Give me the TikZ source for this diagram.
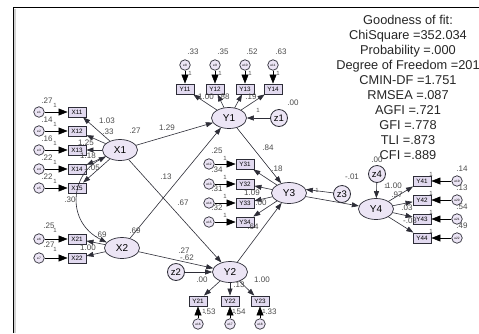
\documentclass[tikz,border=0pt]{standalone}
\usepackage{fontspec}
\setmainfont{Liberation Sans}
\usetikzlibrary{arrows.meta,shapes.geometric}
\definecolor{lav}{RGB}{236,229,245}
\definecolor{boxfill}{RGB}{226,218,240}
\definecolor{edge}{RGB}{45,45,55}
\definecolor{lbltxt}{RGB}{75,75,75}
\tikzset{
 lat/.style={ellipse, draw=edge, line width=0.7pt, fill=lav, minimum width=35pt, minimum height=21pt, inner sep=0pt, font=\fontsize{10}{10}\selectfont},
 obs/.style={rectangle, draw=edge, line width=0.9pt, fill=boxfill, minimum width=18pt, minimum height=10pt, inner sep=0pt, font=\fontsize{6.3}{6.3}\selectfont},
 err/.style={circle, draw=edge, line width=0.7pt, fill=lav, minimum size=10.5pt, inner sep=0pt, font=\fontsize{3.2}{3.2}\selectfont},
 dist/.style={circle, draw=edge, line width=0.8pt, fill=lav, minimum size=17pt, inner sep=0pt, font=\fontsize{9.5}{9.5}\selectfont},
 lbl/.style={inner sep=0pt, text=lbltxt, font=\fontsize{8}{8}\selectfont},
 one/.style={inner sep=0pt, text=lbltxt, font=\fontsize{6}{6}\selectfont},
 arr/.style={draw=edge, line width=0.6pt, -{Triangle[length=7pt,width=5pt]}},
 earr/.style={draw=black, line width=0.6pt, -{Triangle[length=9pt,width=7pt]}},
 cov/.style={draw=edge, line width=0.6pt, {Triangle[length=7pt,width=5pt]}-{Triangle[length=7pt,width=5pt]}},
 gof/.style={anchor=base, inner sep=0pt, text=black!85, font=\fontsize{12.8}{12.8}\selectfont},
}
\begin{document}
\begin{tikzpicture}[x=1pt,y=-1pt]
\useasboundingbox (0,0) rectangle (479,333);
\fill[white] (0,0) rectangle (479,333);
% frame
\draw[gray!35, line width=1.2pt] (15,333) -- (15,8.5);
\draw[black, line width=1pt] (13,333) -- (13,7) -- (479,7);

% goodness of fit
\foreach \t [count=\k from 0] in {Goodness of fit:, ChiSquare =352.034, Probability =.000, Degree of Freedom =201, CMIN-DF =1.751, RMSEA =.087, AGFI =.721, GFI =.778, TLI =.873, CFI =.889}
  \node[gof] (g\k) at (408,{24+15*\k}) {\t};

% latent variables
\node[lat] (X1) at (120,150) {X1};
\node[lat] (X2) at (122,248) {X2};
\node[lat] (Y1) at (229,118) {Y1};
\node[lat] (Y2) at (230,272) {Y2};
\node[lat] (Y3) at (289,193) {Y3};
\node[lat] (Y4) at (376,209) {Y4};
\node[dist] (z1) at (279,118) {z1};
\node[dist] (z2) at (176,272) {z2};
\node[dist] (z3) at (342,194) {z3};
\node[dist] (z4) at (377,174) {z4};

% X1 indicators
\foreach \n/\yy/\e in {1/112/1,2/131/2,3/150/3,4/169/4,5/188/5}{
  \node[obs] (X1\n) at (77,\yy) {X1\n};
  \node[err] (e\e) at (39,\yy) {e\e};
  \draw[earr] (e\e) -- (X1\n);
  \draw[arr] (X1) -- (X1\n);
}
% X2 indicators
\foreach \n/\yy/\e in {1/239/6,2/258/7}{
  \node[obs] (X2\n) at (77,\yy) {X2\n};
  \node[err] (e\e) at (39,\yy) {e\e};
  \draw[earr] (e\e) -- (X2\n);
  \draw[arr] (X2) -- (X2\n);
}
% Y1 indicators
\foreach \n/\xx/\e in {1/185/8,2/215/9,3/245/10,4/273/11}{
  \node[obs] (Y1\n) at (\xx,89) {Y1\n};
  \node[err] (e\e) at (\xx,65) {e\e};
  \draw[earr] (e\e) -- (Y1\n);
  \draw[arr] (Y1) -- (Y1\n);
}
% Y3 indicators
\foreach \n/\yy/\e in {1/164/12,2/184/13,3/203/14,4/222/15}{
  \node[obs] (Y3\n) at (245,\yy) {Y3\n};
  \node[err] (e\e) at (209,\yy) {e\e};
  \draw[earr] (e\e) -- (Y3\n);
  \draw[arr] (Y3) -- (Y3\n);
}
% Y2 indicators
\foreach \n/\xx/\e in {1/198/16,2/230/17,3/260/18}{
  \node[obs] (Y2\n) at (\xx,301) {Y2\n};
  \node[err] (e\e) at (\xx,324) {e\e};
  \draw[earr] (e\e) -- (Y2\n);
  \draw[arr] (Y2) -- (Y2\n);
}
% Y4 indicators
\foreach \n/\yy/\e in {1/181/19,2/200/20,3/219/21,4/238/22}{
  \node[obs] (Y4\n) at (422,\yy) {Y4\n};
  \node[err] (e\e) at (457,\yy) {e\e};
  \draw[earr] (e\e) -- (Y4\n);
  \draw[arr] (Y4) -- (Y4\n);
}

% structural paths
\draw[arr] (X1) -- (Y1);
\draw[arr] (X1) -- (Y2);
\draw[arr] (X2) -- (Y1);
\draw[arr] (X2) -- (Y2);
\draw[arr] (Y1) -- (Y3);
\draw[arr] (Y2) -- (Y3);
\draw[arr] (Y3.-12) -- (Y4);
\draw[arr] (z1) -- (Y1);
\draw[arr] (z2) -- (Y2);
\draw[arr] (z3) -- (Y3.12);
\draw[arr] (z4) -- (Y4);
\draw[cov] (X1.205) .. controls (70,175) and (66,222) .. (X2.160);

% estimates
\foreach \xx/\yy/\t [count=\k] in {
 47/101/.27, 47/120/.14, 47/139/.16, 47/158/.22, 47/177/.22,
 107/121/1.03, 108/132/.33, 86/143/1.25, 88/156/1.18, 92/168/1.05,
 135/131/.27, 70/200/.30,
 49/226/.25, 49/245/.27, 101/235/.69, 88/248/1.00, 135/231/.69,
 167/128/1.29, 166/177/.13, 183/203/.67, 184/251/.27, 187/258/-.62,
 193/52/.33, 223/52/.35, 252/52/.52, 281/52/.63,
 206/97/1.00, 224/97/.88, 251/97/.19, 293/103/.00, 268/148/.84,
 217/151/.25, 217/170/.34, 217/189/.31, 217/208/.32,
 277/169/.18, 252/193/1.09, 261/203/.00, 253/227/.64,
 202/280/.00, 239/285/.13, 262/280/1.00, 210/312/.53, 240/312/.54, 271/312/.33,
 352/177/-.01, 377/160/.00, 394/186/1.00, 397/195/.97, 407/208/.03, 410/221/-.03,
 462/169/.14, 462/188/.13, 462/207/.54, 462/226/.49}
  \node[lbl] (est\k) at (\xx,\yy) {\t};

% fixed weights
\foreach \xx/\yy [count=\k] in {
 55/105, 55/124, 55/143, 55/162, 55/181, 55/230, 55/249,
 190/73, 220/73, 250/73, 278/73, 258/110,
 225/158, 225/177, 225/196, 225/215,
 204/311, 234/311, 264/311,
 317/190, 386/186, 431/174, 431/193, 431/212, 431/231}
  \node[one] (one\k) at (\xx,\yy) {1};
\end{tikzpicture}
\end{document}
